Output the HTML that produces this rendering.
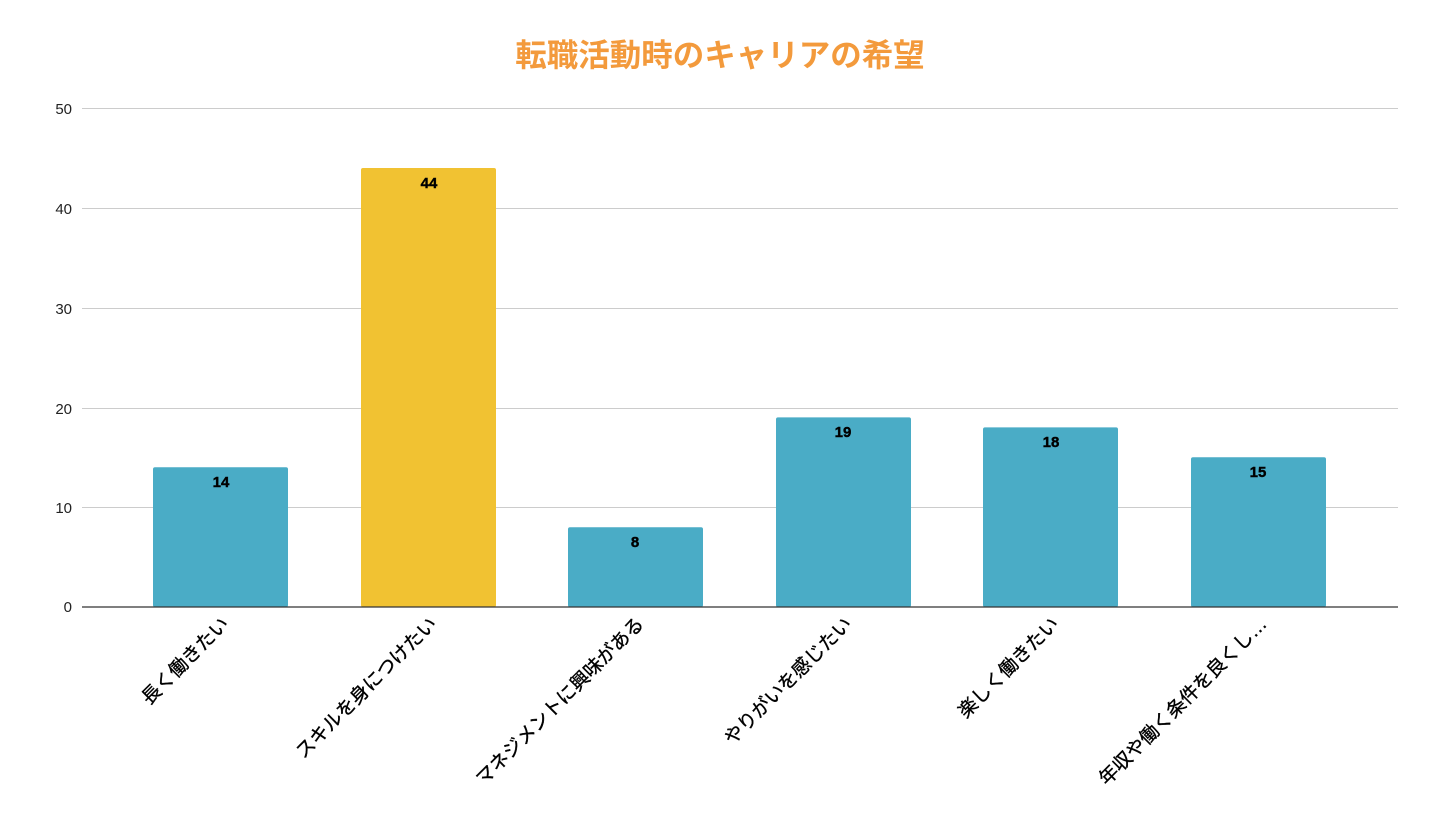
<!DOCTYPE html>
<html><head><meta charset="utf-8"><style>
html,body{margin:0;padding:0;background:#fff;}
svg{display:block;font-family:"Liberation Sans","Noto Sans CJK JP",sans-serif;}
</style></head><body>
<svg width="1440" height="830" viewBox="0 0 1440 830">
<text x="720" y="66" text-anchor="middle" font-size="31.5" font-weight="bold" fill="#f39a3c">転職活動時のキャリアの希望</text>
<g stroke="#cccccc" stroke-width="1">
<line x1="82" x2="1398" y1="108.5" y2="108.5"/>
<line x1="82" x2="1398" y1="208.5" y2="208.5"/>
<line x1="82" x2="1398" y1="308.5" y2="308.5"/>
<line x1="82" x2="1398" y1="408.5" y2="408.5"/>
<line x1="82" x2="1398" y1="507.5" y2="507.5"/>
</g>
<g font-size="15" fill="#222" text-anchor="end">
<text x="72" y="114">50</text>
<text x="72" y="214">40</text>
<text x="72" y="314">30</text>
<text x="72" y="414">20</text>
<text x="72" y="513">10</text>
<text x="72" y="612">0</text>
</g>
<g>
<rect x="153" y="467.3" width="135" height="139.7" rx="2" fill="#4aacc6"/>
<rect x="361" y="168" width="135" height="439" rx="2" fill="#f1c232"/>
<rect x="568" y="527.2" width="135" height="79.8" rx="2" fill="#4aacc6"/>
<rect x="776" y="417.4" width="135" height="189.6" rx="2" fill="#4aacc6"/>
<rect x="983" y="427.4" width="135" height="179.6" rx="2" fill="#4aacc6"/>
<rect x="1191" y="457.3" width="135" height="149.7" rx="2" fill="#4aacc6"/>
</g>
<line x1="82" x2="1398" y1="607" y2="607" stroke="#333" stroke-width="1.3"/>
<g font-size="15" font-weight="bold" fill="#000" text-anchor="middle" stroke="#000" stroke-width="0.4">
<text x="221" y="487">14</text>
<text x="429" y="188">44</text>
<text x="635" y="547">8</text>
<text x="843" y="437">19</text>
<text x="1051" y="447">18</text>
<text x="1258" y="477">15</text>
</g>
<g font-size="19" fill="#000" text-anchor="end" stroke="#000" stroke-width="0.35">
<text transform="translate(230,625) rotate(-45)">長く働きたい</text>
<text transform="translate(438,625) rotate(-45)">スキルを身につけたい</text>
<text transform="translate(645,625) rotate(-45)">マネジメントに興味がある</text>
<text transform="translate(853,625) rotate(-45)">やりがいを感じたい</text>
<text transform="translate(1060,625) rotate(-45)">楽しく働きたい</text>
<text transform="translate(1268,625) rotate(-45)">年収や働く条件を良くし…</text>
</g>
</svg>
</body></html>
